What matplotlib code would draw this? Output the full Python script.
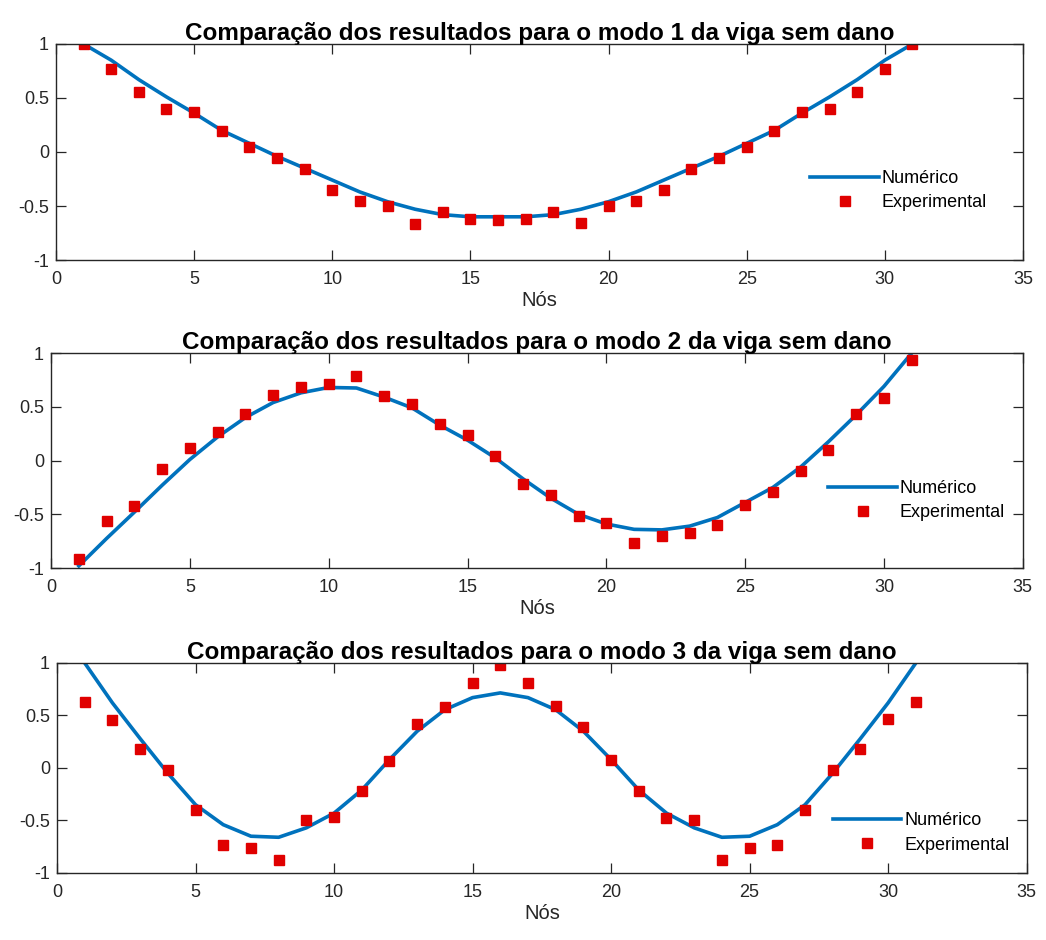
import numpy as np
import matplotlib
matplotlib.use('Agg')
import matplotlib.pyplot as plt

plt.rcParams['font.family'] = ['Liberation Sans', 'DejaVu Sans']

# nodes of the beam
nos = list(range(1, 32))

# mode 1
num_1 = [1.00, 0.85, 0.67, 0.51, 0.36, 0.20, 0.08, -0.04, -0.15, -0.26, -0.37, -0.46, -0.53, -0.58, -0.60, -0.60,
         -0.60, -0.58, -0.53, -0.46, -0.37, -0.26, -0.15, -0.04, 0.08, 0.20, 0.36, 0.51, 0.67, 0.85, 1.00]
exp_1 = [1.00, 0.77, 0.56, 0.40, 0.37, 0.195, 0.046, -0.06, -0.16, -0.35, -0.45, -0.50, -0.665, -0.556, -0.62, -0.63,
         -0.62, -0.556, -0.66, -0.50, -0.45, -0.35, -0.16, -0.06, 0.05, 0.195, 0.37, 0.40, 0.56, 0.77, 1.00]

# mode 2
num_2 = [-0.98, -0.725, -0.48, -0.23, 0.01, 0.22, 0.40, 0.54, 0.63, 0.68, 0.675, 0.59, 0.49, 0.33, 0.19, 0.025,
         -0.17, -0.35, -0.50, -0.59, -0.64, -0.645, -0.61, -0.53, -0.39, -0.25, -0.06, 0.175, 0.425, 0.69, 1.00]
exp_2 = [-0.92, -0.565, -0.42, -0.075, 0.12, 0.265, 0.43, 0.61, 0.685, 0.715, 0.79, 0.60, 0.53, 0.34, 0.24, 0.047,
         -0.22, -0.325, -0.52, -0.58, -0.77, -0.70, -0.67, -0.595, -0.41, -0.29, -0.10, 0.094, 0.43, 0.58, 0.94]

# mode 3
num_3 = [1.00, 0.62, 0.28, -0.05, -0.35, -0.54, -0.65, -0.66, -0.57, -0.43, -0.21, 0.08, 0.35, 0.555, 0.67, 0.715,
         0.67, 0.555, 0.35, 0.08, -0.21, -0.43, -0.57, -0.66, -0.65, -0.54, -0.35, -0.05, 0.28, 0.62, 1.00]
exp_3 = [0.63, 0.46, 0.18, -0.02, -0.40, -0.73, -0.76, -0.88, -0.50, -0.47, -0.215, 0.07, 0.42, 0.585, 0.81, 0.98,
         0.81, 0.59, 0.39, 0.076, -0.215, -0.476, -0.50, -0.876, -0.76, -0.733, -0.40, -0.02, 0.18, 0.466, 0.63]

modos = [1, 2, 3]
numericos = [num_1, num_2, num_3]
experimentais = [exp_1, exp_2, exp_3]

# axes boxes [left, bottom, width, height] in figure fraction
caixas = [[0.0535, 0.7234, 0.9245, 0.2298],
          [0.0488, 0.3957, 0.9290, 0.2287],
          [0.0545, 0.0713, 0.9270, 0.2234]]
leg_pos = [(0.78, 0.32), (0.80, 0.314), (0.80, 0.19)]

fig = plt.figure(figsize=(10.46, 9.4), dpi=100)

for i in range(3):
    ax = fig.add_axes(caixas[i])
    ax.plot(nos, numericos[i], color='#0072BD', lw=2.6, label='Numérico')
    ax.plot(nos, experimentais[i], 's', color='#e00000', mec='#e00000', ms=7, label='Experimental')
    ax.set_xlim(0, 35)
    ax.set_ylim(-1, 1)
    ax.set_xticks(np.arange(0, 36, 5))
    ax.set_yticks([-1, -0.5, 0, 0.5, 1])
    ax.set_yticklabels(['-1', '-0.5', '0', '0.5', '1'])
    ax.tick_params(direction='in', top=True, right=True, labelsize=13, colors='#262626',
                   length=7, width=0.9)
    ax.tick_params(axis='x', pad=8)
    ax.tick_params(axis='y', pad=5)
    for s in ax.spines.values():
        s.set_color('#262626')
        s.set_linewidth(1.0)
    ax.set_title('Comparação dos resultados para o modo %d da viga sem dano' % modos[i],
                 fontsize=17.5, fontweight='bold', pad=3)
    ax.set_xlabel('Nós', fontsize=14.5, color='#262626', labelpad=2)
    ax.legend(loc='center left', bbox_to_anchor=leg_pos[i], frameon=False, fontsize=13,
              handlelength=3.8, handletextpad=0.15, labelspacing=0.4, borderpad=0, borderaxespad=0)

fig.savefig('out.png', dpi=100)
